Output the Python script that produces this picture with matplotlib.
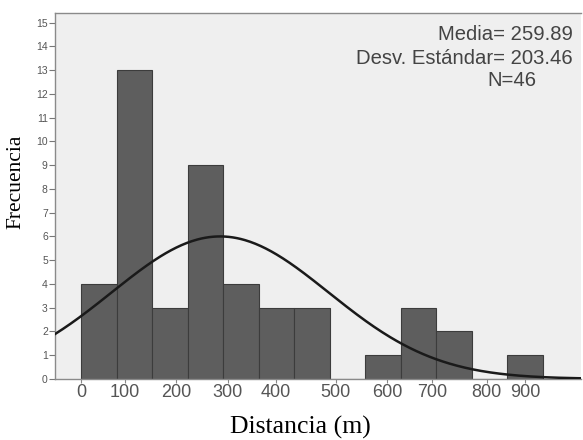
import numpy as np
import matplotlib.pyplot as plt

# histogram data (13 bins starting at 0)
bin_width = 66.5
counts = [4, 13, 3, 9, 4, 3, 3, 0, 1, 3, 2, 0, 1]
media = 259.89
desv = 203.46
n_total = 46

# x tick labels as they sit under the axis in the original
xtick_pos = [0, 81, 178, 274, 365, 477, 573, 657, 760, 832]
xtick_labels = ['0', '100', '200', '300', '400', '500', '600', '700', '800', '900']
ytick_vals = list(range(0, 16))

edges = np.arange(len(counts) + 1) * bin_width

fig = plt.figure(figsize=(5.83, 4.4), dpi=100)
ax = fig.add_axes([0.094, 0.139, 0.903, 0.831])
ax.set_facecolor('#efefef')

ax.bar(edges[:-1], counts, width=bin_width, align='edge',
       color='#5e5e5e', edgecolor='#3c3c3c', linewidth=0.8, zorder=2)

# fitted normal curve
xs = np.linspace(-50, 937, 400)
ys = n_total * bin_width / (desv * np.sqrt(2 * np.pi)) * np.exp(-0.5 * ((xs - media) / desv) ** 2)
ax.plot(xs, ys, color='#1a1a1a', linewidth=1.8, zorder=3)

ax.set_xlim(-50, 937)
ax.set_ylim(0, 15.4)

ax.set_yticks(ytick_vals)
ax.set_yticklabels([str(v) for v in ytick_vals], fontsize=7.5, color='#555555',
                   family='Liberation Sans')
ax.set_xticks(xtick_pos)
ax.set_xticklabels(xtick_labels, fontsize=13, color='#555555', family='Liberation Sans')
ax.tick_params(axis='y', length=4, width=0.8, color='#777777', pad=1)
ax.tick_params(axis='x', length=3, width=0.8, color='#888888', pad=1)

for side in ['left', 'bottom', 'top']:
    ax.spines[side].set_color('#8a8a8a')
    ax.spines[side].set_linewidth(1.0)
ax.spines['right'].set_visible(False)

fig.text(0.027, 0.586, 'Frecuencia', rotation=90, ha='center', va='center',
         fontsize=15.5, family='Liberation Serif')
fig.text(0.515, 0.014, 'Distancia (m)', ha='center', va='baseline',
         fontsize=18.5, family='Liberation Serif')

txt = dict(transform=fig.transFigure, fontsize=14.6, color='#444444', family='Liberation Sans')
fig.text(0.982, 1 - 35 / 440, 'Media= 259.89', ha='right', va='center', **txt)
fig.text(0.982, 1 - 58 / 440, 'Desv. Estándar= 203.46', ha='right', va='center', **txt)
fig.text(0.878, 1 - 80 / 440, 'N=46', ha='center', va='center', **txt)

plt.savefig('out.png', dpi=100)
